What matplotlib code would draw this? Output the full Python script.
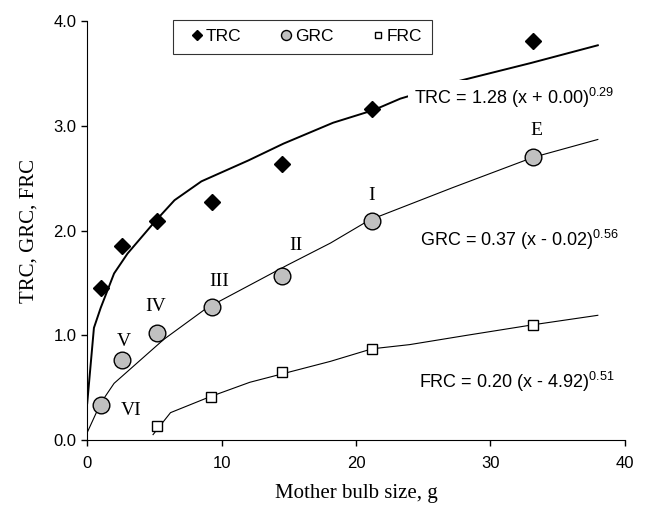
import matplotlib.pyplot as plt

# mesures (taille du bulbe mère, g)
size = [1.0, 2.6, 5.2, 9.3, 14.5, 21.2, 33.2]
trc = [1.45, 1.85, 2.09, 2.27, 2.64, 3.16, 3.81]
grc = [0.33, 0.76, 1.02, 1.27, 1.57, 2.09, 2.70]
frc_size = [5.2, 9.2, 14.5, 21.2, 33.2]
frc = [0.13, 0.41, 0.65, 0.87, 1.10]

# courbes ajustées
trc_fit_x = [0, 0.5, 1, 2, 3, 5, 6.5, 8.5, 12, 14.6, 18.3, 21.3, 23.3, 27.7, 33, 38]
trc_fit_y = [0.35, 1.07, 1.26, 1.59, 1.78, 2.08, 2.29, 2.47, 2.67, 2.83, 3.03, 3.15, 3.26, 3.43, 3.60, 3.77]
grc_fit_x = [0, 1, 2, 5.7, 8.9, 14.9, 18.1, 21, 27.2, 33.2, 38]
grc_fit_y = [0.07, 0.35, 0.54, 0.96, 1.26, 1.67, 1.88, 2.10, 2.41, 2.70, 2.87]
frc_fit_x = [4.9, 6.2, 9.1, 12.1, 18.1, 21.2, 24, 28.3, 33.2, 38]
frc_fit_y = [0.05, 0.26, 0.41, 0.55, 0.75, 0.87, 0.91, 1.00, 1.10, 1.19]

stages = ['VI', 'V', 'IV', 'III', 'II', 'I', 'E']
stage_x = [3.3, 2.7, 5.1, 9.8, 15.5, 21.2, 33.4]
stage_y = [0.28, 0.94, 1.27, 1.51, 1.86, 2.33, 2.96]

sans = 'Liberation Sans'
serif = 'Liberation Serif'
plt.rcParams['mathtext.fontset'] = 'custom'
plt.rcParams['mathtext.rm'] = sans

fig = plt.figure(figsize=(6.46, 5.05), dpi=100)
ax = fig.add_axes([0.135, 0.129, 0.832, 0.829])

ax.plot(trc_fit_x, trc_fit_y, color='black', lw=1.4, zorder=2)
ax.plot(grc_fit_x, grc_fit_y, color='black', lw=0.8, zorder=2)
ax.plot(frc_fit_x, frc_fit_y, color='black', lw=0.8, zorder=2)

ax.plot(size, trc, 'D', color='black', ms=8, ls='none', label='TRC', zorder=4)
ax.plot(size, grc, 'o', mfc='#c0c0c0', mec='black', mew=1, ms=12, ls='none',
        label='GRC', zorder=4)
ax.plot(frc_size, frc, 's', mfc='white', mec='black', mew=1, ms=7.5, ls='none',
        label='FRC', zorder=4)

for s, x, y in zip(stages, stage_x, stage_y):
    ax.text(x, y, s, family=serif, fontsize=14, ha='center', va='center', zorder=5)

box = dict(facecolor='white', edgecolor='none', pad=4)
ax.text(24.3, 3.27, r'TRC = 1.28 (x + 0.00)$^{0.29}$', family=sans, fontsize=13,
        va='center', bbox=box, zorder=3)
ax.text(24.8, 1.91, r'GRC = 0.37 (x - 0.02)$^{0.56}$', family=sans, fontsize=13,
        va='center', zorder=3)
ax.text(24.7, 0.55, r'FRC = 0.20 (x - 4.92)$^{0.51}$', family=sans, fontsize=13,
        va='center', zorder=3)

ax.set_xlim(0, 40)
ax.set_ylim(0, 4.0)
ax.set_xticks([0, 10, 20, 30, 40])
ax.set_yticks([0, 1, 2, 3, 4])
ax.set_yticklabels(['0.0', '1.0', '2.0', '3.0', '4.0'])
for lab in ax.get_xticklabels() + ax.get_yticklabels():
    lab.set_family(sans)
    lab.set_fontsize(12)
ax.tick_params(direction='out', length=4.3, width=1)
ax.tick_params(axis='x', pad=7)
ax.spines['top'].set_visible(False)
ax.spines['right'].set_visible(False)
ax.set_xlabel('Mother bulb size, g', family=serif, fontsize=15, labelpad=9.5)
ax.set_ylabel('TRC, GRC, FRC', family=serif, fontsize=15, labelpad=10.5)

leg = ax.legend(loc='upper left', bbox_to_anchor=(0.16, 1.004), ncol=3,
                prop={'family': sans, 'size': 12.5}, markerscale=0.6,
                frameon=True, fancybox=False, edgecolor='black',
                handletextpad=-0.3, columnspacing=1.8, handlelength=1.6,
                borderpad=0.55, borderaxespad=0)
leg.get_frame().set_linewidth(0.8)

plt.savefig('out.png', dpi=100)
